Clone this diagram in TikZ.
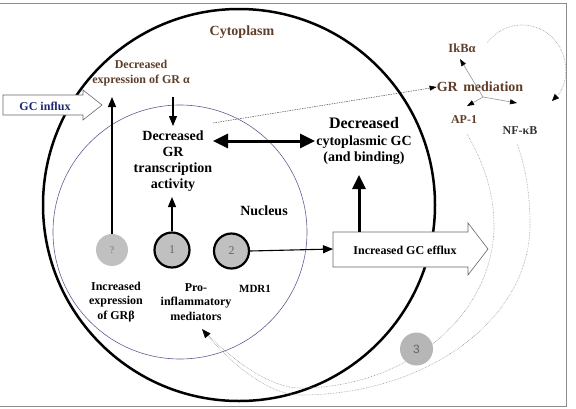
\documentclass[tikz,border=0pt]{standalone}
\usepackage{fontspec}
\setmainfont{Liberation Serif}
\newfontfamily\arialf{Liberation Sans}
\usetikzlibrary{arrows.meta}
\definecolor{brownT}{RGB}{94,62,40}
\definecolor{navyT}{RGB}{30,40,110}
\definecolor{nucT}{RGB}{95,95,150}
\definecolor{grayfill}{RGB}{192,192,192}
\definecolor{curveT}{RGB}{150,150,150}
\begin{document}
\begin{tikzpicture}[x=1pt,y=-1pt,
  txt/.style={inner sep=0pt, align=center, font=\bfseries\fontsize{12}{14.5}\selectfont},
  bigtxt/.style={inner sep=0pt, align=center, font=\bfseries\fontsize{14}{16}\selectfont},
  blockarrow/.style={fill=white, draw=black!60, line width=0.6pt},
  thinarrow/.style={line width=1.1pt, -{Triangle[length=10pt,width=8pt]}},
  thickarrow/.style={line width=3pt, -{Triangle[length=14pt,width=13pt]}},
  grayarrow/.style={draw=curveT, line width=0.6pt, -{Triangle[length=7pt,width=5pt,fill=black,color=black]}},
  graycurve/.style={draw=curveT, line width=0.6pt, densely dotted},
  numcircle/.style={circle, fill=grayfill, inner sep=0pt, minimum size=35pt, draw=black, line width=2.2pt, text=black!60, font=\fontsize{12}{14}\selectfont}
]
\useasboundingbox (0,0) rectangle (576,408);
% frame
\draw[black!45, line width=0.8pt] (-3,3) rectangle (566,406);
% cell and nucleus
\draw[line width=2.5pt] (239,205) circle[radius=196pt];
\draw[nucT, line width=0.6pt] (180,232) circle[radius=127pt];

% named coordinates
\coordinate (ap1start) at (467,134);
\coordinate (nfkbstart) at (517,144);
\coordinate (medtip) at (202,329);

% long gray curves
\draw[graycurve] (ap1start) .. controls (485,165) and (494,195) .. (494,225)
  .. controls (494,315) and (407,388) .. (300,388)
  .. controls (270,388) and (232,360) .. (204,331);
\draw[graycurve, -{Triangle[length=9pt,width=7pt,fill=black,color=black]}] (nfkbstart) .. controls (527,170) and (530,200) .. (530,225)
  .. controls (530,319) and (427,395) .. (300,395)
  .. controls (268,395) and (230,362) .. (medtip);

% block arrows
\draw[blockarrow] (3,95) -- (83,95) -- (83,90) -- (102,105) -- (83,120) -- (83,115) -- (3,115) -- cycle;
\draw[blockarrow] (333,232) -- (468,232) -- (468,223) -- (488,249) -- (468,275) -- (468,267) -- (333,267) -- cycle;
\coordinate (effluxin) at (333,249);
\coordinate (effluxtop) at (359,232);

% circles
\node[circle, fill=grayfill, inner sep=0pt, minimum size=32pt, text=black!55, font=\fontsize{10}{12}\selectfont] (q) at (112,250) {?};
\node[numcircle] (c1) at (172,250) {1};
\node[numcircle] (c2) at (231.5,251) {2};
\node[circle, fill=grayfill!95!black, inner sep=0pt, minimum size=33pt, text=black!60, font=\arialf\fontsize{12}{14}\selectfont] (c3) at (416.5,349) {3};

% texts
\node[bigtxt, brownT] (cyto) at (242,32) {Cytoplasm};
\node[txt, brownT, font=\bfseries\fontsize{12}{15}\selectfont] (decexp) at (141,73) {Decreased\\expression of GR α};
\node[txt, navyT] (gcin) at (45,106) {GC influx};
\node[bigtxt] (dgr) at (173,161) {Decreased\\GR\\transcription\\activity};
\node[bigtxt, font=\bfseries\fontsize{14}{15.5}\selectfont] (dcyto) at (364,141) {{\fontsize{16}{18}\selectfont Decreased}\\[1.5pt]cytoplasmic GC\\(and binding)};
\node[bigtxt] (nuc) at (264,211) {Nucleus};
\node[txt] (grb) at (116,302) {Increased\\expression\\of GRβ};
\node[txt] (pro) at (196,302) {Pro-\\inflammatory\\mediators};
\node[txt, font=\bfseries\fontsize{11}{13}\selectfont] (mdr) at (255,289) {MDR1};
\node[txt] (efft) at (405,250) {Increased GC efflux};
\node[bigtxt, brownT] (grm) at (480,87) {GR\hspace{2pt} mediation};
\node[txt, brownT, font=\bfseries\fontsize{12.5}{14}\selectfont] (ikb) at (462,48) {IkBα};
\node[txt, brownT] (ap1) at (464,120) {AP-1};
\node[txt, black!80] (nfkb) at (520,131) {NF-κB};

% arrows
\coordinate (qtip) at (112,97);
\draw[thinarrow] (q.north) -- (qtip);
\draw[thinarrow] (c1.north) -- (172,197);
\draw[thinarrow] (173,97) -- (173,126);
\draw[line width=1.1pt, -{Triangle[length=10pt,width=8pt]}] (c2.east) -- (effluxin);
\draw[thickarrow] (effluxtop) -- (359,175);
\draw[line width=3pt, {Triangle[length=15pt,width=14pt]}-{Triangle[length=15pt,width=14pt]}] (213,141) -- (315,141);
\draw[black!70, line width=0.5pt, dash pattern=on 1.5pt off 1pt, -{Triangle[length=7pt,width=5pt,fill=black,color=black]}] (213,123) -- (grm.west);

% GR mediation branches
\coordinate (branch) at (483,97);
\draw[grayarrow] (branch) -- (460,59);
\draw[grayarrow] (branch) -- (467,106);
\draw[grayarrow] (branch) -- (517,103);
% loop arrow
\draw[graycurve, -{Triangle[length=7pt,width=6pt,fill=black,color=black]}] (487.5,42.4) .. controls (502.7,21.9) and (532.3,19.0) .. (551.1,36.3)
  .. controls (569.9,53.6) and (569.5,83.4) .. (552,101);
\end{tikzpicture}
\end{document}
